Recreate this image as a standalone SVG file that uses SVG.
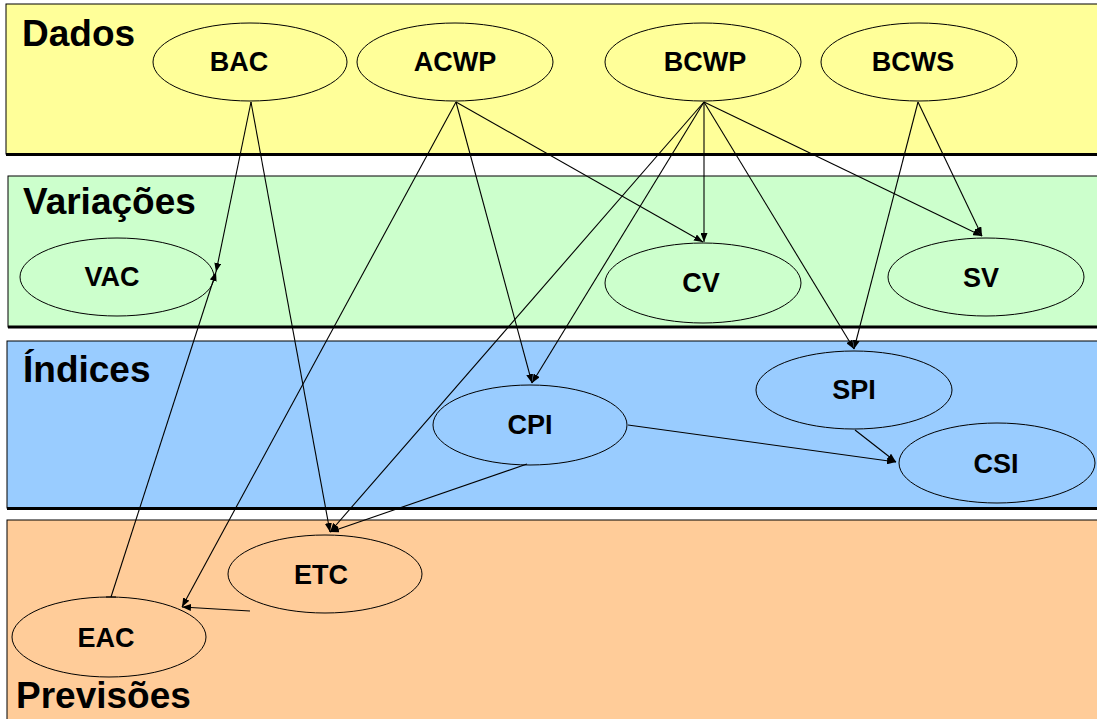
<svg xmlns="http://www.w3.org/2000/svg" width="1097" height="719" viewBox="0 0 1097 719">
<defs>
<style>
.band{stroke:#000;stroke-width:1}
.edge{stroke:#000;stroke-width:3}
.head{font-family:"Liberation Sans",Arial,sans-serif;font-weight:bold;font-size:37px;fill:#000}
.node ellipse{fill:none;stroke:#000;stroke-width:1}
.node text{font-family:"Liberation Sans",Arial,sans-serif;font-weight:bold;font-size:27px;fill:#000;text-anchor:middle}
.conn path{fill:none;stroke:#000;stroke-width:1.1}
</style>
<marker id="arr" viewBox="0 0 9 7" refX="9" refY="3.5" markerWidth="9" markerHeight="7" markerUnits="userSpaceOnUse" orient="auto">
<path d="M0,0 L9,3.5 L0,7 Z" fill="#000"/>
</marker>
</defs>
<rect width="1097" height="719" fill="#fff"/>
<g id="bands">
<rect class="band" x="6" y="4" width="1100" height="150" fill="#FFFF99"/>
<line class="edge" x1="6" y1="154.5" x2="1097" y2="154.5"/>
<rect class="band" x="8" y="176" width="1100" height="151" fill="#CCFFCC"/>
<line class="edge" x1="8" y1="327" x2="1097" y2="327"/>
<rect class="band" x="7" y="341" width="1100" height="167" fill="#99CCFF"/>
<line class="edge" x1="7" y1="508.5" x2="1097" y2="508.5"/>
<rect class="band" x="7" y="520" width="1100" height="210" fill="#FFCC99"/>
<text class="head" x="22" y="46">Dados</text>
<text class="head" x="23" y="214">Variações</text>
<text class="head" x="23" y="382">Índices</text>
<text class="head" x="16" y="708">Previsões</text>
</g>
<g id="connectors" class="conn">
<path d="M251,102 L330,532" marker-end="url(#arr)"/>
<path d="M251,102 L216,272" marker-end="url(#arr)"/>
<path d="M111,597 L216,272" marker-end="url(#arr)"/>
<path d="M106,597 L116,597"/>
<path d="M456,102 L703,242" marker-end="url(#arr)"/>
<path d="M456,102 L532,383" marker-end="url(#arr)"/>
<path d="M456,102 L182,607" marker-end="url(#arr)"/>
<path d="M704,102 L704,242" marker-end="url(#arr)"/>
<path d="M704,102 L982,236" marker-end="url(#arr)"/>
<path d="M704,102 L854,349" marker-end="url(#arr)"/>
<path d="M704,102 L532,383" marker-end="url(#arr)"/>
<path d="M704,102 L330,532" marker-end="url(#arr)"/>
<path d="M918,102 L982,236" marker-end="url(#arr)"/>
<path d="M918,102 L854,349" marker-end="url(#arr)"/>
<path d="M527,464 L330,532" marker-end="url(#arr)"/>
<path d="M628,425 L896,462" marker-end="url(#arr)"/>
<path d="M855,430 L896,462" marker-end="url(#arr)"/>
<path d="M250,611 L182,607" marker-end="url(#arr)"/>
</g>
<g id="BAC" class="node"><ellipse cx="250" cy="62" rx="97" ry="39"/><text x="239" y="71">BAC</text></g>
<g id="ACWP" class="node"><ellipse cx="455" cy="62" rx="98" ry="39"/><text x="455" y="71">ACWP</text></g>
<g id="BCWP" class="node"><ellipse cx="703" cy="62" rx="98" ry="39"/><text x="705" y="71">BCWP</text></g>
<g id="BCWS" class="node"><ellipse cx="919" cy="62" rx="98" ry="39"/><text x="913" y="71">BCWS</text></g>
<g id="VAC" class="node"><ellipse cx="117" cy="277" rx="97" ry="39"/><text x="112" y="286">VAC</text></g>
<g id="CV" class="node"><ellipse cx="703" cy="283" rx="98" ry="40"/><text x="701" y="292">CV</text></g>
<g id="SV" class="node"><ellipse cx="986" cy="277" rx="98" ry="39"/><text x="981" y="287">SV</text></g>
<g id="CPI" class="node"><ellipse cx="530" cy="425" rx="97" ry="40"/><text x="530" y="434">CPI</text></g>
<g id="SPI" class="node"><ellipse cx="854" cy="390" rx="98" ry="39"/><text x="854" y="399">SPI</text></g>
<g id="CSI" class="node"><ellipse cx="997" cy="463" rx="98" ry="40"/><text x="996" y="473">CSI</text></g>
<g id="ETC" class="node"><ellipse cx="325" cy="574" rx="97" ry="39"/><text x="321" y="584">ETC</text></g>
<g id="EAC" class="node"><ellipse cx="109" cy="637" rx="97" ry="40"/><text x="106" y="647">EAC</text></g>
</svg>
